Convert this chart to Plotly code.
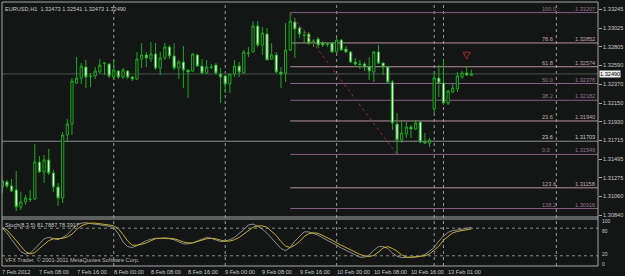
import plotly.graph_objects as go
import pandas as pd

# ---------------- data ----------------
times = list(pd.date_range("2012-02-07 00:00", periods=95, freq="h")) + \
        list(pd.date_range("2012-02-13 00:00", periods=7, freq="h"))

opens = [1.31168,1.31227,1.31180,1.31133,1.30934,1.30993,1.31022,1.31028,1.31460,1.31343,
         1.31484,1.31332,1.31168,1.31040,1.31776,1.31904,1.32384,1.32442,1.32571,1.32466,
         1.32466,1.32512,1.32612,1.32606,1.32454,1.32524,1.32454,1.32524,1.32454,1.32431,
         1.32664,1.32711,1.32664,1.32723,1.32559,1.32676,1.32805,1.32699,1.32559,1.32629,
         1.32536,1.32524,1.32711,1.32582,1.32501,1.32565,1.32594,1.32489,1.32466,1.32372,
         1.32489,1.32582,1.32501,1.32729,1.32746,1.33050,1.32828,1.32957,1.32664,1.32711,
         1.32512,1.32501,1.32769,1.33097,1.33027,1.32945,1.32957,1.32875,1.32898,1.32851,
         1.32840,1.32851,1.32746,1.32886,1.32781,1.32746,1.32629,1.32606,1.32606,1.32571,
         1.32512,1.32746,1.32617,1.32571,1.32395,1.31904,1.31717,1.31788,1.31869,1.31846,
         1.31928,1.31694,1.31682,1.32080,1.32442,1.32384,1.32150,1.32279,1.32314,1.32454,
         1.32501,1.32473]
highs = [1.31250,1.31250,1.31262,1.31355,1.31110,1.31074,1.31133,1.31671,1.31530,1.31542,
         1.31612,1.31367,1.31215,1.31811,1.31963,1.32442,1.32688,1.32617,1.32653,1.32501,
         1.32571,1.32664,1.32629,1.32617,1.32653,1.32536,1.32559,1.32536,1.32466,1.32746,
         1.32851,1.32746,1.32863,1.32851,1.32746,1.32851,1.32828,1.32851,1.32653,1.32816,
         1.32536,1.32734,1.32723,1.32664,1.32653,1.32606,1.32617,1.32559,1.32477,1.32489,
         1.32653,1.32629,1.32769,1.32805,1.33108,1.33108,1.33038,1.33027,1.32851,1.32746,
         1.32571,1.33085,1.33207,1.33144,1.33050,1.33003,1.32980,1.32898,1.32921,1.32875,
         1.32863,1.32863,1.32910,1.32898,1.32816,1.32758,1.32676,1.32653,1.32629,1.32688,
         1.32758,1.32828,1.32629,1.32582,1.32419,1.32033,1.31939,1.31928,1.31893,1.31951,
         1.31939,1.31799,1.31741,1.32512,1.32594,1.32653,1.32302,1.32384,1.32512,1.32524,
         1.32582,1.32541]
lows = [1.31098,1.31156,1.31110,1.30887,1.30899,1.30958,1.30993,1.31016,1.31332,1.31215,
        1.31308,1.31110,1.30946,1.30981,1.31694,1.31776,1.32372,1.32372,1.32325,1.32337,
        1.32431,1.32501,1.32477,1.32442,1.32419,1.32431,1.32431,1.32431,1.32407,1.32419,
        1.32559,1.32571,1.32629,1.32536,1.32477,1.32653,1.32664,1.32536,1.32431,1.32325,
        1.32208,1.32512,1.32571,1.32489,1.32489,1.32547,1.32477,1.32150,1.32267,1.32267,
        1.32454,1.32454,1.32501,1.32688,1.32746,1.32805,1.32711,1.32653,1.32653,1.32501,
        1.32325,1.32395,1.32758,1.32676,1.32910,1.32851,1.32828,1.32805,1.32793,1.32805,
        1.32805,1.32734,1.32734,1.32758,1.32734,1.32617,1.32571,1.32547,1.32524,1.32419,
        1.32395,1.32606,1.32477,1.32384,1.31834,1.31549,1.31682,1.31741,1.31741,1.31834,
        1.31682,1.31682,1.31636,1.32021,1.32220,1.32127,1.32127,1.32267,1.32279,1.32431,
        1.32466,1.32473]
closes = [1.31238,1.31180,1.31121,1.30934,1.30993,1.31040,1.31028,1.31460,1.31343,1.31484,
          1.31332,1.31168,1.31040,1.31776,1.31904,1.32407,1.32442,1.32582,1.32454,1.32460,
          1.32524,1.32594,1.32617,1.32466,1.32536,1.32454,1.32536,1.32454,1.32431,1.32664,
          1.32711,1.32676,1.32723,1.32559,1.32676,1.32805,1.32699,1.32559,1.32629,1.32536,
          1.32512,1.32723,1.32582,1.32501,1.32571,1.32571,1.32501,1.32454,1.32372,1.32489,
          1.32582,1.32512,1.32746,1.32734,1.33050,1.32828,1.32968,1.32653,1.32711,1.32512,
          1.32489,1.32769,1.33108,1.33015,1.32957,1.32939,1.32851,1.32869,1.32828,1.32828,
          1.32834,1.32746,1.32886,1.32769,1.32746,1.32629,1.32606,1.32600,1.32571,1.32524,
          1.32746,1.32617,1.32571,1.32395,1.31916,1.31717,1.31799,1.31869,1.31846,1.31916,
          1.31694,1.31682,1.31717,1.32442,1.32384,1.32150,1.32290,1.32325,1.32466,1.32501,
          1.32477,1.32490]

stoch_main = [80,70,55,41,29,24,26,35,47,57,60,57,55,60,66,77,87,91,92,90,
              89,88,86,84,81,68,50,40,38,42,48,53,56,58,58,58,57,55,51,46,
              46,48,52,56,60,58,55,51,52,55,60,68,77,87,89,84,78,69,58,46,
              36,31,38,52,62,72,72,69,65,59,54,49,43,37,32,28,23,17,17,22,
              32,40,40,36,26,19,16,16,16,17,19,23,30,38,52,63,71,75,76,78,
              80,81.7887]
stoch_signal = [81,76,65,53,41,29,24,27,36,45,53,57,58,58,61,67,77,85,89,91,
                91,90,88,87,85,79,66,52,43,43,45,48,53,57,58,59,58,57,54,50,
                48,48,51,54,57,58,57,54,52,52,55,60,68,76,82,85,85,82,73,64,
                51,41,38,43,51,62,68,70,69,64,60,54,48,43,38,33,27,23,20,18,
                21,28,37,40,36,30,22,17,17,18,19,20,24,32,41,54,63,70,73,75,
                77,78.3917]

tick_bars = [0, 8, 16, 24, 32, 40, 48, 56, 64, 72, 80, 88, 96]
tick_labels = ["7 Feb 2012", "7 Feb 08:00", "7 Feb 16:00", "8 Feb 00:00", "8 Feb 08:00",
               "8 Feb 16:00", "9 Feb 00:00", "9 Feb 08:00", "9 Feb 16:00", "10 Feb 00:00",
               "10 Feb 08:00", "10 Feb 16:00", "13 Feb 01:00"]
price_ticks = [1.33245, 1.33025, 1.32805, 1.32590, 1.32370, 1.32150, 1.31930,
               1.31715, 1.31495, 1.31275, 1.31060, 1.30840]

fib_names = ["100.0", "78.6", "61.8", "50.0", "38.2", "23.6", "23.6", "0.0", "123.6", "138.2"]
fib_prices = [1.33207, 1.32852, 1.32574, 1.32378, 1.32182, 1.31940, 1.31703, 1.31549, 1.31158, 1.30916]
fib_kind = ["p", "k", "k", "p", "p", "k", "g", "p", "k", "p"]
fib_start_bar = 62
trend_from = (62, 1.33207)
trend_to = (85, 1.31549)
vlines_bars = [24, 48, 72, 93, 95, 119.3]
arrow_bar, arrow_price = 100, 1.32662
bid = 1.32490
header = "EURUSD,H1  1.32473 1.32541 1.32473 1.32490"
stoch_scale = [100, 80, 20, 0]

# ---------------- styling ----------------
BG = "#131615"
GREEN = "#1ea81e"
TXT = "#c8c8c8"
FONT = "Liberation Sans"
FS = 5.6
col_map = {"p": "#8a5e86", "k": "#b8929f", "g": "#8e9191"}
txt_map = {"p": "#9a6e96", "k": "#c4a2b0", "g": "#c8c8c8"}

W, H = 625, 276
ML, MR, MT, MB = 2, 22, 2, 10
ph = H - MT - MB
main_dom = [(266 - 217) / ph, 1]
st_dom = [0, (266 - 219) / ph]

n = len(opens)
x = list(range(n))
px_per_bar = 4.683
x0 = -(2.3 - ML) / px_per_bar
x1 = x0 + (W - ML - MR) / px_per_bar

fig = go.Figure()
fig.add_trace(go.Candlestick(
    x=x, open=opens, high=highs, low=lows, close=closes,
    increasing=dict(line=dict(color=GREEN, width=1), fillcolor=BG),
    decreasing=dict(line=dict(color=GREEN, width=1), fillcolor="#f2fff2"),
    whiskerwidth=0, xaxis="x", yaxis="y", hoverinfo="skip", showlegend=False))

fig.add_trace(go.Scatter(x=x, y=stoch_main, mode="lines", line=dict(color="#8f9090", width=1),
                         xaxis="x", yaxis="y2", hoverinfo="skip", showlegend=False))
fig.add_trace(go.Scatter(x=x, y=stoch_signal, mode="lines", line=dict(color="#c9ad2e", width=1),
                         xaxis="x", yaxis="y2", hoverinfo="skip", showlegend=False))

fig.add_trace(go.Scatter(x=[arrow_bar], y=[arrow_price], mode="markers",
                         marker=dict(symbol="arrow-down-open", size=7, color="#b02828",
                                     line=dict(color="#b02828", width=1)),
                         xaxis="x", yaxis="y", hoverinfo="skip", showlegend=False))

shapes = []
for b in vlines_bars:
    shapes.append(dict(type="line", xref="x", yref="paper", x0=b, x1=b, y0=0, y1=1,
                       line=dict(color="#9a9a9a", width=1, dash="dot"), layer="below"))
shapes.append(dict(type="line", xref="paper", yref="y", x0=0, x1=1, y0=bid, y1=bid,
                   line=dict(color="#45524e", width=1), layer="below"))
annotations = []
for name, p, k in zip(fib_names, fib_prices, fib_kind):
    if k == "g":
        shapes.append(dict(type="line", xref="paper", yref="y", x0=0, x1=1, y0=p, y1=p,
                           line=dict(color=col_map[k], width=1), layer="below"))
    else:
        shapes.append(dict(type="line", xref="x", yref="y", x0=fib_start_bar, x1=x1, y0=p, y1=p,
                           line=dict(color=col_map[k], width=1), layer="below"))
    annotations.append(dict(xref="paper", yref="y", x=(545 - ML) / (W - ML - MR), y=p,
                            text=name, showarrow=False, xanchor="left", yanchor="bottom",
                            font=dict(family=FONT, size=FS, color=txt_map[k]), yshift=-1))
    annotations.append(dict(xref="paper", yref="y", x=0.998, y=p,
                            text=f"{p:.5f}", showarrow=False, xanchor="right", yanchor="bottom",
                            font=dict(family=FONT, size=FS, color=txt_map[k]), yshift=-1))
shapes.append(dict(type="line", xref="x", yref="y", x0=trend_from[0], y0=trend_from[1],
                   x1=trend_to[0], y1=trend_to[1], line=dict(color="#9a2648", width=1, dash="dot")))
for lv in (80, 20):
    shapes.append(dict(type="line", xref="paper", yref="y2", x0=0, x1=1, y0=lv, y1=lv,
                       line=dict(color="#8a8a8a", width=1, dash="dot"), layer="below"))
bc = "#a8a8a8"
shapes += [
    dict(type="line", xref="paper", yref="paper", x0=0, x1=1, y0=1, y1=1, line=dict(color=bc, width=1)),
    dict(type="line", xref="paper", yref="paper", x0=0, x1=0, y0=0, y1=1, line=dict(color=bc, width=1)),
    dict(type="line", xref="paper", yref="paper", x0=1, x1=1, y0=0, y1=1, line=dict(color=bc, width=1)),
    dict(type="line", xref="paper", yref="paper", x0=0, x1=1, y0=0, y1=0, line=dict(color=bc, width=1)),
    dict(type="line", xref="paper", yref="paper", x0=0, x1=1, y0=main_dom[0], y1=main_dom[0], line=dict(color=bc, width=1)),
    dict(type="line", xref="paper", yref="paper", x0=0, x1=1, y0=st_dom[1], y1=st_dom[1], line=dict(color=bc, width=1)),
]

annotations.append(dict(xref="paper", yref="paper", x=0.002, y=1, yshift=-2, text=header,
                        showarrow=False, xanchor="left", yanchor="top",
                        font=dict(family=FONT, size=FS, color=TXT)))
annotations.append(dict(xref="paper", yref="paper", x=0.002, y=st_dom[1], yshift=-1,
                        text="Stoch(8,3,5) 81.7887 78.3917", showarrow=False, xanchor="left",
                        yanchor="top", font=dict(family=FONT, size=FS, color=TXT)))
annotations.append(dict(xref="paper", yref="paper", x=0.002, y=0, yshift=1,
                        text="VFX Trader, © 2001-2011 MetaQuotes Software Corp.", showarrow=False,
                        xanchor="left", yanchor="bottom", font=dict(family=FONT, size=FS, color="#b8b8b8")))
for b, t in zip(tick_bars, tick_labels):
    annotations.append(dict(xref="x", yref="paper", x=b, y=0, yshift=-1, xshift=-2, text=t,
                            showarrow=False, xanchor="left", yanchor="top",
                            font=dict(family=FONT, size=FS, color=TXT)))
# stochastic scale labels (top/bottom ones pushed inside, like MT4)
stoch_pos = {100: ("top", 2), 80: ("top", 1), 20: ("bottom", -2), 0: ("bottom", -3)}
for v in stoch_scale:
    ya, sh = stoch_pos[v]
    annotations.append(dict(xref="paper", yref="y2", x=1, xshift=3, y=v, yshift=sh, text=str(v),
                            showarrow=False, xanchor="left", yanchor=ya, borderpad=0,
                            font=dict(family=FONT, size=5, color=TXT)))
annotations.append(dict(xref="paper", yref="y", x=1, xshift=1, y=bid, text=f"{bid:.5f}",
                        showarrow=False, xanchor="left", yanchor="middle", bgcolor="#f0f0f0",
                        borderpad=0, font=dict(family=FONT, size=FS, color="#000000")))

fig.update_layout(
    width=W, height=H, margin=dict(l=ML, r=MR, t=MT, b=MB),
    paper_bgcolor=BG, plot_bgcolor=BG, showlegend=False, boxgap=0.32,
    xaxis=dict(domain=[0, 1], anchor="y2", range=[x0, x1], showgrid=False, zeroline=False,
               showticklabels=False, ticks="", rangeslider=dict(visible=False), fixedrange=True),
    yaxis=dict(domain=main_dom, anchor="x", range=[1.30817, 1.33331], side="right",
               showgrid=False, zeroline=False, tickvals=price_ticks,
               ticktext=[f"{p:.5f}" for p in price_ticks], ticks="outside", ticklen=3,
               tickcolor="#a8a8a8", tickfont=dict(family=FONT, size=FS, color=TXT)),
    yaxis2=dict(domain=st_dom, anchor="x", range=[-2.2, 100], side="right", showgrid=False,
                zeroline=False, showticklabels=False, ticks=""),
    shapes=shapes, annotations=annotations, hovermode=False,
)

fig.write_html("out.html", config={"displayModeBar": False})
